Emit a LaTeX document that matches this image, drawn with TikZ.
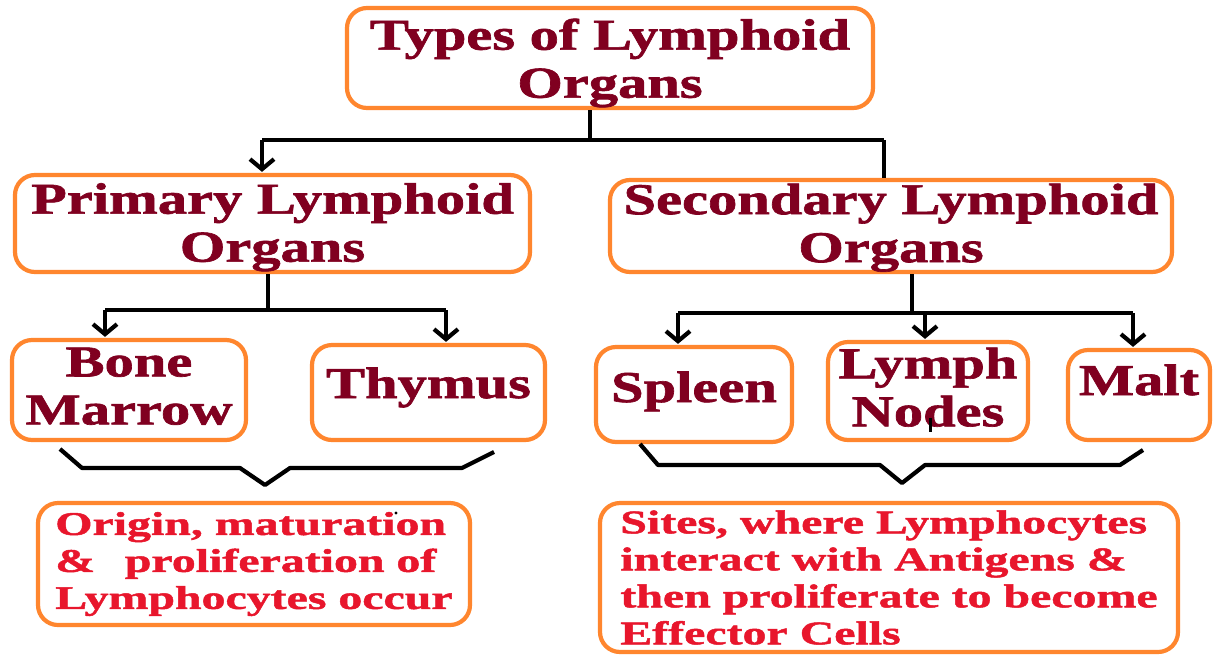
\documentclass[tikz,border=0pt]{standalone}
\usepackage{fontspec}
\usetikzlibrary{arrows.meta}
\newfontfamily\headfont[FakeStretch=1.33,FakeBold=1.5]{Liberation Serif}
\newfontfamily\notefont[FakeStretch=1.45,FakeBold=1.5]{Liberation Serif}
\definecolor{maroon}{RGB}{128,0,32}
\definecolor{notered}{RGB}{232,22,44}
\definecolor{orng}{RGB}{255,134,46}
\newcommand{\up}[1]{\rule{0pt}{#1pt}}
\newcommand{\dn}[1]{\rule[-#1pt]{0pt}{0pt}}
\tikzset{
  box/.style={draw=orng, line width=4.2pt, rounded corners=20pt, inner sep=0pt, align=center},
  head/.style={box, text=maroon, font=\headfont\bfseries\fontsize{44}{48}\selectfont},
  note/.style={box, text=notered, font=\notefont\bfseries\fontsize{33}{37}\selectfont, align=left},
  conn/.style={line width=4.2pt, black},
  arr/.style={-{Straight Barb[length=10pt,width=24pt]}, shorten >=1pt}
}
\begin{document}
\begin{tikzpicture}[x=1pt,y=-1pt]
\useasboundingbox[fill=white] (0,0) rectangle (1213,657);
% boxes
\node[head, minimum width=526, minimum height=100] (top) at (610,58) {\up{41}Types of Lymphoid\\Organs};
\node[head, minimum width=515, minimum height=97] (prim) at (272.5,223.5) {\up{38}Primary Lymphoid\\Organs};
\node[head, minimum width=562, minimum height=92] (sec) at (891,226) {\up{34}Secondary Lymphoid\\Organs};
\node[head, minimum width=234, minimum height=100] (bone) at (129,390) {Bone\\Marrow\dn{8}};
\node[head, minimum width=233, minimum height=95, text height=30pt, text depth=19pt] (thy) at (428.5,392.5) {Thymus};
\node[head, minimum width=196, minimum height=95, text height=30pt, text depth=15pt] (spl) at (694,394.5) {Spleen};
\node[head, minimum width=200, minimum height=98] (lym) at (928,391) {Lymph\\Nodes\dn{8}};
\node[head, minimum width=142, minimum height=90, text height=30pt, text depth=30pt] (malt) at (1139,395) {Malt};
\node[note, minimum width=432, minimum height=122] (orig) at (254,564)
  {Origin, maturation\\\&\hspace{0.9em}proliferation of\\Lymphocytes occur};
\node[note, minimum width=578, minimum height=149] (site) at (889,577.5)
  {Sites, where Lymphocytes\\interact with Antigens \&\\then proliferate to become\\Effector Cells};
% junctions
\coordinate (j1) at (590,140);
\coordinate (a1) at (262,140);
\coordinate (a2) at (884,140);
\coordinate (j2) at (268,310);
\coordinate (b1) at (105,310);
\coordinate (b2) at (446,310);
\coordinate (j3) at (912,313);
\coordinate (c1) at (678,313);
\coordinate (c2) at (925,313);
\coordinate (c3) at (1133,313);
% connectors
\draw[conn] (top.south -| j1) -- (j1);
\draw[conn] (a1) -- (a2);
\draw[conn, arr] (a1) -- (prim.north -| a1);
\draw[conn] (a2) -- (sec.north -| a2);
\draw[conn] (prim.south -| j2) -- (j2);
\draw[conn] (b1) -- (b2);
\draw[conn, arr] (b1) -- (bone.north -| b1);
\draw[conn, arr] (b2) -- (thy.north -| b2);
\draw[conn] (sec.south -| j3) -- (j3);
\draw[conn] (c1) -- (c3);
\draw[conn, arr] (c1) -- (spl.north -| c1);
\draw[conn, arr] (c2) -- (lym.north -| c2);
\draw[conn, arr] (c3) -- (malt.north -| c3);
% braces
\draw[conn, line join=round] (60,449) -- (82,468) -- (240,468) -- (265,485) -- (290,468) -- (462,468) -- (494,452);
\draw[conn, line join=round] (640,444) -- (658,465) -- (880,465) -- (902,483) -- (925,465) -- (1120,465) -- (1143,450);
% small marks
\draw[conn, line width=3pt] (930,418) -- (930,432);
\fill (396,513) circle (1.6);
\end{tikzpicture}
\end{document}
